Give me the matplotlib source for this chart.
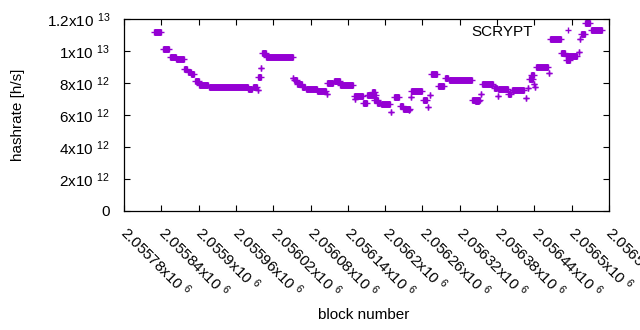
import matplotlib
matplotlib.use("Agg")
import matplotlib.pyplot as plt
from matplotlib.lines import Line2D
from matplotlib.ticker import FixedLocator, FuncFormatter

plt.rcParams['font.family'] = ['Liberation Sans', 'DejaVu Sans']
plt.rcParams['mathtext.fontset'] = 'custom'
plt.rcParams['mathtext.rm'] = 'Liberation Sans'
plt.rcParams['mathtext.it'] = 'Liberation Sans'
plt.rcParams['mathtext.bf'] = 'Liberation Sans'

# runs of blocks sharing the same hashrate estimate (start block, end block, value in 1e12 h/s)
run_start = [2055829, 2055842, 2055854, 2055864, 2055877, 2055883, 2055888, 2055894, 2055901, 2055916,
             2055980, 2055987, 2055995, 2055996, 2056001, 2056002, 2056009, 2056052, 2056053, 2056059,
             2056067, 2056072, 2056091, 2056106, 2056107, 2056117, 2056128, 2056150, 2056151, 2056165,
             2056171, 2056179, 2056182, 2056187, 2056193, 2056209, 2056214, 2056224, 2056229, 2056239,
             2056242, 2056242, 2056261, 2056269, 2056272, 2056274, 2056285, 2056296, 2056302, 2056340,
             2056344, 2056354, 2056355, 2056375, 2056381, 2056382, 2056398, 2056404, 2056426, 2056430,
             2056431, 2056434, 2056440, 2056441, 2056443, 2056463, 2056465, 2056483, 2056491, 2056491,
             2056512, 2056513, 2056515, 2056522, 2056531]
run_end = [2055840, 2055853, 2055863, 2055876, 2055882, 2055887, 2055893, 2055900, 2055915, 2055979,
           2055986, 2055994, 2055995, 2056000, 2056001, 2056008, 2056051, 2056052, 2056058, 2056066,
           2056071, 2056090, 2056105, 2056106, 2056116, 2056127, 2056149, 2056164, 2056151, 2056170,
           2056186, 2056184, 2056188, 2056192, 2056208, 2056209, 2056223, 2056228, 2056240, 2056239,
           2056260, 2056242, 2056267, 2056269, 2056272, 2056284, 2056295, 2056301, 2056339, 2056352,
           2056351, 2056354, 2056374, 2056380, 2056381, 2056397, 2056403, 2056424, 2056426, 2056430,
           2056438, 2056440, 2056440, 2056441, 2056462, 2056463, 2056482, 2056490, 2056508, 2056497,
           2056512, 2056513, 2056521, 2056530, 2056549]
hashrate_e12 = [11.17, 10.10, 9.60, 9.48, 8.86, 8.71, 8.56, 8.12, 7.86, 7.78,
                7.60, 7.72, 7.58, 8.40, 8.92, 9.88, 9.60, 8.30, 8.20, 7.92,
                7.78, 7.60, 7.52, 7.30, 8.02, 8.12, 7.90, 7.17, 7.00, 6.77,
                7.25, 7.44, 6.95, 6.78, 6.67, 6.18, 7.10, 6.58, 6.40, 6.30,
                7.53, 7.12, 6.95, 6.52, 7.25, 8.54, 7.80, 8.30, 8.18, 6.96,
                6.85, 7.33, 7.92, 7.68, 7.17, 7.60, 7.30, 7.55, 7.05, 7.70,
                8.27, 8.50, 7.94, 7.75, 9.00, 8.60, 10.72, 9.86, 9.66, 9.44,
                9.96, 10.78, 11.05, 11.74, 11.30]

x_ticks = [2055780 + 60 * k for k in range(14)]
y_ticks = [0, 2e12, 4e12, 6e12, 8e12, 1e13, 1.2e13]
series_label = "SCRYPT"

color = '#9400d3'
hashrate = [v * 1e12 for v in hashrate_e12]

fig = plt.figure(figsize=(6.4, 3.3), dpi=100)
ax = fig.add_axes([124/640, 1 - 211/330, (609-124)/640, (211-19)/330])

ms = 5.0
ax.hlines(hashrate, run_start, run_end, colors=color, linewidth=ms, capstyle='butt')
ax.plot(run_start, hashrate, ls='none', marker='+', ms=ms, mew=1.0, color=color)
ax.plot(run_end, hashrate, ls='none', marker='+', ms=ms, mew=1.0, color=color)

ax.set_xlim(2055780, 2056560)
ax.set_ylim(0, 1.2e13)


def sci_label(v):
    if v == 0:
        return "0"
    s = "%.6e" % v
    mant, exp = s.split('e')
    mant = mant.rstrip('0').rstrip('.')
    return "%sx10$\\ ^{%d}$" % (mant, int(exp))


ax.xaxis.set_major_locator(FixedLocator(x_ticks))
ax.yaxis.set_major_locator(FixedLocator(y_ticks))
ax.xaxis.set_major_formatter(FuncFormatter(lambda v, p: sci_label(v)))
ax.yaxis.set_major_formatter(FuncFormatter(lambda v, p: sci_label(v)))

ax.tick_params(direction='in', length=4, width=0.8, top=True, right=True,
               labelsize=11, colors='black')
ax.tick_params(axis='y', pad=10)
ax.tick_params(axis='x', pad=13)
for lab in ax.get_xticklabels():
    lab.set_rotation(-45)
    lab.set_ha('left')
    lab.set_va('center')
    lab.set_rotation_mode('anchor')

for sp in ax.spines.values():
    sp.set_linewidth(0.9)

ax.set_xlabel("block number", fontsize=11)
ax.set_ylabel("hashrate [h/s]", fontsize=11)
ax.xaxis.set_label_coords((364-124)/485, -(308-211)/192)
ax.yaxis.set_label_coords(-(124-25)/485, 0.5)

handle = Line2D([], [], ls='none', marker='+', ms=ms, mew=1.0, color=color)
ax.legend([handle], [series_label], loc='center right', markerfirst=False, frameon=False,
          fontsize=11, handlelength=2.0, handletextpad=1.27, borderpad=0, borderaxespad=0,
          bbox_to_anchor=(583/640, 1 - 31.5/330), bbox_transform=fig.transFigure)

fig.savefig("out.png", dpi=100)
